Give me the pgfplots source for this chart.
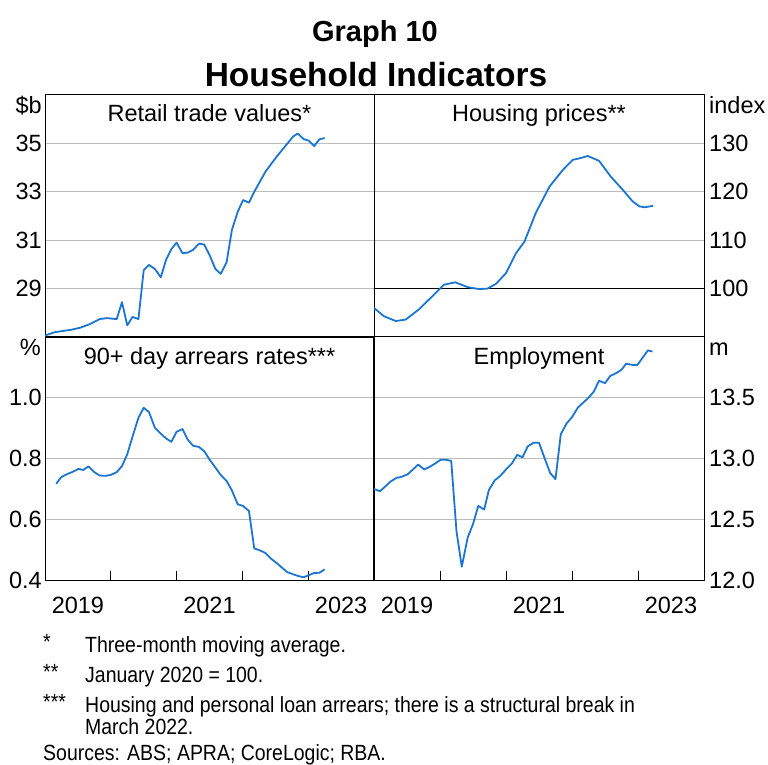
\documentclass[border=0pt]{standalone}
\usepackage{fontspec}
\setmainfont{Liberation Sans}
\newfontfamily\notefont{Liberation Sans}[FakeStretch=0.885]
\usepackage{pgfplots}
\pgfplotsset{compat=1.18}
\definecolor{rbablue}{HTML}{1C75D1}
\definecolor{gridgrey}{HTML}{BDBDBD}

\newcommand\lab{\fontsize{23.5}{26}\selectfont}
\newcommand\note{\notefont\fontsize{22}{24}\selectfont}

\pgfplotsset{
  panel/.style={
    scale only axis,
    xmin=2019, xmax=2024,
    axis line style={black, line width=1pt},
    ymajorgrids,
    grid style={gridgrey, line width=1pt},
    ytick style={draw=none},
    tick label style={font=\lab},
    /pgf/number format/assume math mode=true,
    /pgf/number format/1000 sep={},
    no markers,
    every axis plot post/.append style={rbablue, line width=1.8pt, line join=round},
  },
  toppanel/.style={panel, height=242pt, xtick=\empty},
  botpanel/.style={panel, height=243pt,
    xtick={2020,2021,2022,2023}, xticklabels={,,,},
    xtick pos=bottom, tick align=inside, major tick length=9pt,
    xtick style={black, line width=1pt},
    extra x ticks={2019.5,2021.5,2023.5},
    extra x tick labels={2019,2021,2023},
    extra x tick style={major tick length=0pt},
    xticklabel style={inner sep=0pt, yshift=-17pt},
    /pgf/number format/.cd, fixed, fixed zerofill, precision=1},
  leftpanel/.style={width=329pt,
    yticklabel style={anchor=east, inner sep=0pt, xshift=-3pt}},
  rightpanel/.style={width=330pt, yticklabel pos=right,
    yticklabel style={anchor=west, inner sep=0pt, xshift=5pt}},
}

\begin{document}
\begin{tikzpicture}[x=1pt,y=1pt]
\useasboundingbox (0,0) rectangle (768,764);

% titles
\node[anchor=base, font=\bfseries\fontsize{29}{31}\selectfont] at (375,722) {Graph 10};
\node[anchor=base, font=\bfseries\fontsize{33.5}{36}\selectfont] at (376,677) {Household Indicators};

% retail trade
\begin{axis}[toppanel, leftpanel, at={(45pt,427pt)}, anchor=south west,
  ymin=27, ymax=37, ytick={29,31,33,35}]
\addplot coordinates {(2019.00,27.06)(2019.15,27.20)(2019.40,27.30)(2019.53,27.38)
 (2019.68,27.53)(2019.83,27.74)(2019.94,27.78)(2020.09,27.74)(2020.17,28.44)
 (2020.25,27.48)(2020.33,27.83)(2020.42,27.74)(2020.50,29.76)(2020.58,29.98)
 (2020.67,29.81)(2020.76,29.47)(2020.84,30.19)(2020.92,30.63)(2021.00,30.90)
 (2021.09,30.46)(2021.17,30.49)(2021.25,30.60)(2021.34,30.86)(2021.42,30.82)
 (2021.50,30.39)(2021.59,29.81)(2021.67,29.61)(2021.76,30.09)(2021.84,31.42)
 (2021.93,32.18)(2022.01,32.66)(2022.10,32.55)(2022.18,33.00)(2022.35,33.83)
 (2022.52,34.45)(2022.77,35.28)(2022.84,35.41)(2022.93,35.18)(2023.01,35.11)
 (2023.09,34.89)(2023.17,35.17)(2023.25,35.22)};
\end{axis}

% housing prices
\begin{axis}[toppanel, rightpanel, at={(374pt,427pt)}, anchor=south west,
  ymin=90, ymax=140, ytick={110,120,130},
  extra y ticks={100}, extra y tick style={grid style={black, line width=1pt}}]
\addplot coordinates {(2019.00,96.0)(2019.15,94.3)(2019.33,93.3)(2019.48,93.6)
 (2019.68,95.7)(2019.86,98.1)(2020.06,100.8)(2020.23,101.3)(2020.42,100.3)
 (2020.59,99.9)(2020.72,100.0)(2020.85,101.0)(2021.00,103.2)(2021.15,107.3)
 (2021.28,109.7)(2021.45,115.6)(2021.66,121.1)(2021.86,124.5)(2022.01,126.6)
 (2022.11,126.9)(2022.24,127.4)(2022.41,126.4)(2022.59,123.1)(2022.77,120.4)
 (2022.92,118.0)(2023.02,117.0)(2023.10,116.8)(2023.23,117.1)};
\end{axis}

% arrears
\begin{axis}[botpanel, leftpanel, at={(45pt,184pt)}, anchor=south west,
  ymin=0.4, ymax=1.2, ytick={0.4,0.6,0.8,1.0}]
\addplot coordinates {(2019.17,0.717)(2019.25,0.739)(2019.33,0.748)(2019.42,0.756)
 (2019.51,0.766)(2019.58,0.762)(2019.66,0.774)(2019.75,0.755)(2019.83,0.744)
 (2019.92,0.743)(2020.00,0.746)(2020.09,0.755)(2020.17,0.775)(2020.25,0.814)
 (2020.34,0.879)(2020.42,0.934)(2020.50,0.967)(2020.58,0.953)(2020.67,0.901)
 (2020.76,0.882)(2020.84,0.866)(2020.92,0.855)(2021.00,0.888)(2021.09,0.897)
 (2021.17,0.862)(2021.25,0.842)(2021.34,0.838)(2021.42,0.824)(2021.50,0.797)
 (2021.59,0.770)(2021.67,0.746)(2021.76,0.726)(2021.84,0.695)(2021.93,0.649)
 (2022.01,0.644)(2022.10,0.627)(2022.18,0.504)(2022.26,0.498)(2022.35,0.489)
 (2022.43,0.471)(2022.52,0.456)(2022.60,0.441)(2022.68,0.426)(2022.77,0.419)
 (2022.85,0.413)(2022.93,0.409)(2023.01,0.416)(2023.09,0.423)(2023.17,0.424)
 (2023.25,0.435)};
\end{axis}

% employment
\begin{axis}[botpanel, rightpanel, at={(374pt,184pt)}, anchor=south west,
  ymin=12, ymax=14, ytick={12,12.5,13,13.5}]
\addplot coordinates {(2019.00,12.75)(2019.09,12.73)(2019.17,12.77)(2019.25,12.81)
 (2019.34,12.84)(2019.42,12.85)(2019.51,12.87)(2019.59,12.91)(2019.67,12.95)
 (2019.76,12.91)(2019.84,12.93)(2019.93,12.96)(2020.01,12.99)(2020.09,12.99)
 (2020.17,12.98)(2020.25,12.40)(2020.33,12.11)(2020.42,12.35)(2020.50,12.46)
 (2020.58,12.61)(2020.67,12.58)(2020.74,12.74)(2020.83,12.82)(2020.92,12.86)
 (2021.00,12.91)(2021.09,12.96)(2021.17,13.03)(2021.25,13.01)(2021.33,13.10)
 (2021.42,13.13)(2021.50,13.13)(2021.58,13.01)(2021.67,12.88)(2021.75,12.83)
 (2021.83,13.20)(2021.92,13.29)(2022.00,13.34)(2022.09,13.42)(2022.17,13.46)
 (2022.25,13.50)(2022.33,13.55)(2022.41,13.64)(2022.50,13.62)(2022.58,13.68)
 (2022.66,13.70)(2022.75,13.73)(2022.82,13.78)(2022.92,13.77)(2022.99,13.77)
 (2023.07,13.83)(2023.15,13.89)(2023.22,13.88)};
\end{axis}

% panel titles and units
\node[anchor=base, font=\lab] at (209.5,642) {Retail trade values*};
\node[anchor=base, font=\lab] at (539,642) {Housing prices**};
\node[anchor=base, font=\lab] at (209.5,399) {90+ day arrears rates***};
\node[anchor=base, font=\lab] at (539,399) {Employment};
\node[anchor=base east, inner sep=0pt, font=\lab] at (42,650) {\$b};
\node[anchor=base west, inner sep=0pt, font=\lab] at (709,650) {index};
\node[anchor=base east, inner sep=0pt, font=\lab] at (41,408) {\%};
\node[anchor=base west, inner sep=0pt, font=\lab] at (709,408) {m};

% notes
\begin{scope}[every node/.style={anchor=base west, inner sep=0pt, font=\note}]
\node at (43,115) {*};
\node at (85,112) {Three-month moving average.};
\node at (43,85) {**};
\node at (85,82) {January 2020 = 100.};
\node at (43,55) {***};
\node at (85,52) {Housing and personal loan arrears; there is a structural break in};
\node at (85,30) {March 2022.};
\node at (43,4) {Sources: ABS; APRA; CoreLogic; RBA.};
\end{scope}
\end{tikzpicture}
\end{document}
